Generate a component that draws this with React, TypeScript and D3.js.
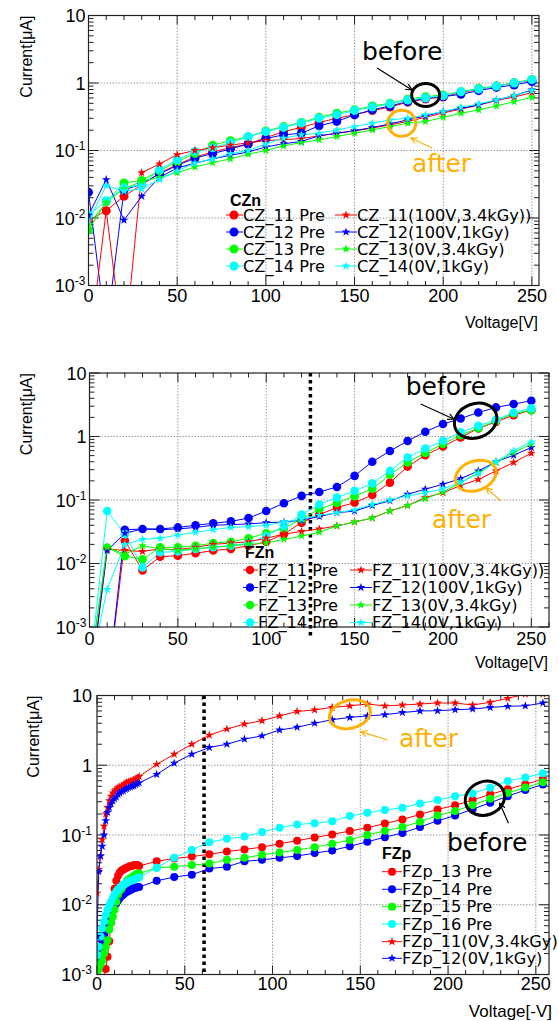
import React from "react";
import * as d3 from "d3";

// ---------- DATA ----------
// Panel 1 : CZn
const V_CZ = [0,10,20,30,40,50,60,70,80,90,100,110,120,130,140,150,160,170,180,190,200,210,220,230,240,250];
const CZ11_PRE = [0.0093,0.0128,0.021,0.031,0.046,0.062,0.08,0.095,0.11,0.125,0.155,0.19,0.22,0.26,0.3,0.34,0.39,0.44,0.52,0.58,0.62,0.72,0.8,0.9,1.0,1.1];
const CZ12_PRE = [0.024,0.0002,0.026,0.032,0.045,0.06,0.077,0.09,0.105,0.125,0.15,0.171,0.18,0.232,0.27,0.337,0.4,0.457,0.53,0.593,0.628,0.68,0.77,0.86,0.935,1.05];
const CZ13_PRE = [0.0066,0.0175,0.033,0.036,0.05,0.068,0.09,0.12,0.14,0.16,0.195,0.226,0.26,0.31,0.356,0.4,0.457,0.5,0.574,0.628,0.665,0.745,0.834,0.9,1.01,1.13];
const CZ14_PRE = [0.011,0.018,0.028,0.031,0.052,0.073,0.097,0.11,0.13,0.16,0.19,0.22,0.255,0.3,0.34,0.39,0.44,0.49,0.56,0.6,0.65,0.74,0.81,0.9,1.0,1.12];
const CZ11_AFT = [0.0001,0.0128,0.0001,0.047,0.063,0.087,0.1,0.11,0.12,0.13,0.14,0.145,0.15,0.165,0.18,0.195,0.215,0.24,0.27,0.31,0.36,0.41,0.47,0.55,0.62,0.72];
const CZ12_AFT = [0.011,0.037,0.0093,0.021,0.04,0.055,0.065,0.075,0.085,0.095,0.113,0.126,0.136,0.165,0.18,0.197,0.219,0.248,0.284,0.325,0.377,0.422,0.473,0.561,0.65,0.79];
const CZ13_AFT = [0.008,0.017,0.027,0.035,0.04,0.047,0.057,0.066,0.075,0.088,0.1,0.117,0.131,0.144,0.161,0.18,0.202,0.226,0.254,0.268,0.31,0.356,0.4,0.457,0.53,0.614];
const CZ14_AFT = [0.009,0.03,0.025,0.027,0.037,0.05,0.065,0.075,0.09,0.1,0.125,0.152,0.171,0.18,0.202,0.226,0.254,0.284,0.3,0.337,0.377,0.437,0.49,0.561,0.65,0.77];

// Panel 2 : FZn
const V_FZ = [0,10,20,30,40,50,60,70,80,90,100,110,120,130,140,150,160,170,180,190,200,210,220,230,240,250];
const FZ11_PRE = [0.0001,0.0001,0.023,0.0078,0.0128,0.0133,0.0145,0.016,0.017,0.019,0.022,0.029,0.044,0.059,0.076,0.091,0.12,0.188,0.336,0.507,0.695,0.965,1.34,1.7,2.17,2.6];
const FZ12_PRE = [0.0001,0.0001,0.034,0.035,0.035,0.037,0.04,0.043,0.046,0.052,0.067,0.089,0.116,0.134,0.16,0.24,0.4,0.59,0.85,1.19,1.57,1.92,2.39,2.87,3.24,3.66];
const FZ13_PRE = [0.0002,0.0178,0.013,0.0116,0.018,0.018,0.019,0.021,0.022,0.025,0.03,0.036,0.05,0.072,0.09,0.115,0.15,0.25,0.39,0.55,0.76,1.05,1.35,1.75,2.3,2.6];
const FZ14_PRE = [0.0002,0.067,0.029,0.0087,0.015,0.0155,0.017,0.018,0.019,0.021,0.027,0.039,0.059,0.085,0.109,0.139,0.183,0.287,0.467,0.646,0.855,1.16,1.47,1.83,2.39,2.77];
const FZ11_AFT = [0.0001,0.017,0.016,0.0155,0.017,0.0165,0.018,0.02,0.021,0.022,0.025,0.029,0.032,0.035,0.039,0.045,0.052,0.067,0.082,0.109,0.13,0.17,0.21,0.287,0.39,0.545];
const FZ12_AFT = [0.0001,0.016,0.03,0.035,0.034,0.035,0.037,0.04,0.041,0.042,0.044,0.045,0.048,0.055,0.063,0.067,0.082,0.097,0.123,0.148,0.177,0.217,0.287,0.4,0.507,0.67];
const FZ13_AFT = [0.0002,0.018,0.014,0.019,0.017,0.016,0.017,0.018,0.019,0.02,0.021,0.024,0.027,0.031,0.039,0.045,0.052,0.067,0.082,0.105,0.134,0.188,0.27,0.39,0.56,0.76];
const FZ14_AFT = [0.0002,0.0039,0.02,0.024,0.025,0.028,0.031,0.034,0.037,0.038,0.04,0.045,0.05,0.057,0.063,0.07,0.085,0.1,0.116,0.13,0.15,0.19,0.26,0.4,0.6,0.82];

// Panel 3 : FZp
const V_FZP = [0,1,2,3,4,5,6,7,8,9,10,11,12,13,14,15,16,17,18,19,20,21,22,23,24,
  34,44,54,64,74,84,94,104,114,124,134,144,154,164,174,184,194,204,214,224,234,244,254];
const FZP13_PRE = [0.0003,0.0004,0.0005,0.0007,0.0009,0.0012,0.0018,0.003,0.0055,0.01,0.017,0.022,0.026,0.029,0.031,0.032,0.033,0.034,0.035,0.036,0.036,0.037,0.037,0.037,0.036,
  0.042,0.046,0.049,0.053,0.058,0.062,0.067,0.075,0.083,0.092,0.102,0.114,0.127,0.146,0.167,0.197,0.233,0.266,0.317,0.383,0.452,0.533,0.63];
const FZP14_PRE = [0.0013,0.0018,0.0024,0.003,0.0037,0.0045,0.0055,0.0065,0.0075,0.0085,0.0095,0.0105,0.0115,0.0125,0.0133,0.014,0.0147,0.0153,0.0158,0.0163,0.0168,0.0172,0.0175,0.0178,0.018,
  0.022,0.025,0.027,0.033,0.035,0.042,0.044,0.047,0.05,0.055,0.06,0.069,0.08,0.093,0.107,0.13,0.16,0.19,0.235,0.29,0.36,0.44,0.53];
const FZP15_PRE = [0.001,0.0012,0.0014,0.0016,0.002,0.0025,0.0031,0.0044,0.0055,0.0068,0.0085,0.011,0.014,0.016,0.017,0.019,0.02,0.022,0.023,0.024,0.025,0.026,0.027,0.028,0.028,
  0.034,0.035,0.037,0.039,0.044,0.047,0.052,0.056,0.061,0.067,0.075,0.085,0.1,0.115,0.13,0.155,0.19,0.22,0.27,0.33,0.4,0.48,0.57];
const FZP16_PRE = [0.0019,0.0025,0.0035,0.0046,0.0058,0.0072,0.0085,0.0098,0.011,0.0125,0.014,0.0155,0.0165,0.0175,0.0185,0.0195,0.02,0.021,0.0215,0.022,0.0225,0.023,0.0235,0.024,0.0245,
  0.034,0.047,0.061,0.079,0.088,0.095,0.11,0.127,0.142,0.147,0.158,0.187,0.208,0.228,0.246,0.284,0.317,0.36,0.395,0.477,0.596,0.665,0.767];
const FZP11_AFT = [0.0147,0.032,0.05,0.086,0.134,0.2,0.246,0.31,0.36,0.4,0.43,0.45,0.48,0.49,0.5,0.52,0.55,0.57,0.58,0.59,0.6,0.62,0.63,0.66,0.69,
  1.03,1.44,2.0,2.7,3.3,3.9,4.35,5.1,5.9,6.2,6.75,7.1,7.55,7.1,7.3,7.55,7.8,7.8,7.3,8.0,9.1,10.5,10.5];
const FZP12_AFT = [0.0035,0.03,0.05,0.069,0.1,0.16,0.21,0.246,0.28,0.31,0.33,0.35,0.38,0.4,0.42,0.43,0.45,0.46,0.48,0.49,0.5,0.51,0.53,0.545,0.56,
  0.74,1.07,1.44,1.8,2.0,2.37,2.64,3.2,3.5,4.0,4.5,4.85,5.1,5.3,5.7,6.0,6.05,6.25,6.4,6.75,7.0,7.1,7.8];

const Y_DECADES = [0.001, 0.01, 0.1, 1, 10];

// ---------- STYLE ----------
const RED = "#ff0000", BLUE = "#0000ff", GREEN = "#00ff00", CYAN = "#00ffff";
const ORANGE = "#ffb000";
const TICK_FONT = "'Liberation Sans', Arial, sans-serif";
const LEG_FONT = "'DejaVu Sans', Verdana, sans-serif";

type Series = { label: string; color: string; kind: "pre" | "aft"; x: number[]; y: number[] };
type Note = { text: string; color: string; tx: number; ty: number; cx: number; cy: number; rx: number; ry: number; rot: number; a0: [number, number]; a1: [number, number] };

type PanelCfg = {
  id: string; left: number; right: number; top: number; bottom: number; xMax: number;
  xTickY: number; xTitle: string; xTitleX: number; xTitleY: number; xTitleSize: number;
  yTitleX: number; yLabelGap: number; circleR: number;
  series: Series[]; header: string; headerX: number; headerY: number; rows: number[];
  cols: { mark: number; l0: number; l1: number; text: number }[];
  twoCols: boolean; dottedV?: number; dottedBottom?: number; notes: Note[];
};

const mk = (label: string, color: string, kind: "pre" | "aft", x: number[], y: number[]): Series => ({ label, color, kind, x, y });

const P1: PanelCfg = {
  id: "cz", left: 88.5, right: 539, top: 15.5, bottom: 285.5, xMax: 254,
  xTickY: 302, xTitle: "Voltage[V]", xTitleX: 538, xTitleY: 328, xTitleSize: 16,
  yTitleX: 32, yLabelGap: 3, circleR: 4.5,
  series: [
    mk("CZ_11 Pre", RED, "pre", V_CZ, CZ11_PRE),
    mk("CZ_12 Pre", BLUE, "pre", V_CZ, CZ12_PRE),
    mk("CZ_13 Pre", GREEN, "pre", V_CZ, CZ13_PRE),
    mk("CZ_14 Pre", CYAN, "pre", V_CZ, CZ14_PRE),
    mk("CZ_11(100V,3.4kGy))", RED, "aft", V_CZ, CZ11_AFT),
    mk("CZ_12(100V,1kGy)", BLUE, "aft", V_CZ, CZ12_AFT),
    mk("CZ_13(0V,3.4kGy)", GREEN, "aft", V_CZ, CZ13_AFT),
    mk("CZ_14(0V,1kGy)", CYAN, "aft", V_CZ, CZ14_AFT),
  ],
  header: "CZn", headerX: 230, headerY: 200, rows: [215, 232, 249, 266],
  cols: [{ mark: 234, l0: 226, l1: 243, text: 243 }, { mark: 346, l0: 335, l1: 357, text: 357 }],
  twoCols: true,
  notes: [
    { text: "before", color: "#000", tx: 154.2, ty: 2.19, cx: 190.1, cy: 0.664, rx: 14, ry: 11.5, rot: 0, a0: [162.7, 1.67], a1: [182.4, 0.787] },
    { text: "after", color: ORANGE, tx: 182.4, ty: 0.048, cx: 176.6, cy: 0.253, rx: 14, ry: 13, rot: 0, a0: [193.8, 0.109], a1: [181.7, 0.153] },
  ],
};

const P2: PanelCfg = {
  id: "fzn", left: 89.5, right: 549, top: 373, bottom: 627, xMax: 260,
  xTickY: 645, xTitle: "Voltage[V]", xTitleX: 548, xTitleY: 668, xTitleSize: 16,
  yTitleX: 32, yLabelGap: 3, circleR: 4.3,
  series: [
    mk("FZ_11 Pre", RED, "pre", V_FZ, FZ11_PRE),
    mk("FZ_12 Pre", BLUE, "pre", V_FZ, FZ12_PRE),
    mk("FZ_13 Pre", GREEN, "pre", V_FZ, FZ13_PRE),
    mk("FZ_14 Pre", CYAN, "pre", V_FZ, FZ14_PRE),
    mk("FZ_11(100V,3.4kGy))", RED, "aft", V_FZ, FZ11_AFT),
    mk("FZ_12(100V,1kGy)", BLUE, "aft", V_FZ, FZ12_AFT),
    mk("FZ_13(0V,3.4kGy)", GREEN, "aft", V_FZ, FZ13_AFT),
    mk("FZ_14(0V,1kGy)", CYAN, "aft", V_FZ, FZ14_AFT),
  ],
  header: "FZn", headerX: 245, headerY: 552, rows: [570, 587.5, 605, 622.5],
  cols: [{ mark: 250, l0: 243, l1: 258, text: 258 }, { mark: 361, l0: 350, l1: 372, text: 372 }],
  twoCols: true, dottedV: 125, dottedBottom: 637,
  notes: [
    { text: "before", color: "#000", tx: 178.9, ty: 4.5, cx: 218.5, cy: 1.77, rx: 21.7, ry: 17, rot: -20, a0: [187.4, 3.25], a1: [206.3, 1.87] },
    { text: "after", color: ORANGE, tx: 193.8, ty: 0.0362, cx: 218.5, cy: 0.241, rx: 21, ry: 14.7, rot: -20, a0: [232.7, 0.0975], a1: [224.2, 0.155] },
  ],
};

const P3: PanelCfg = {
  id: "fzp", left: 97, right: 549, top: 695.5, bottom: 974.5, xMax: 257.5,
  xTickY: 990, xTitle: "Voltage[-V]", xTitleX: 552, xTitleY: 1017, xTitleSize: 17,
  yTitleX: 39, yLabelGap: 5, circleR: 4,
  series: [
    mk("FZp_13 Pre", RED, "pre", V_FZP, FZP13_PRE),
    mk("FZp_14 Pre", BLUE, "pre", V_FZP, FZP14_PRE),
    mk("FZp_15 Pre", GREEN, "pre", V_FZP, FZP15_PRE),
    mk("FZp_16 Pre", CYAN, "pre", V_FZP, FZP16_PRE),
    mk("FZp_11(0V,3.4kGy)", RED, "aft", V_FZP, FZP11_AFT),
    mk("FZp_12(0V,1kGy)", BLUE, "aft", V_FZP, FZP12_AFT),
  ],
  header: "FZp", headerX: 382, headerY: 853, rows: [871.7, 889.3, 906.7, 924, 941.7, 958.3],
  cols: [{ mark: 392, l0: 382, l1: 402, text: 402 }],
  twoCols: false, dottedV: 61, dottedBottom: 975,
  notes: [
    { text: "after", color: ORANGE, tx: 172, ty: 1.83, cx: 144.1, cy: 5.38, rx: 20.8, ry: 14, rot: -15, a0: [165.4, 2.3], a1: [150.2, 3.03] },
    { text: "before", color: "#000", tx: 199.4, ty: 0.059, cx: 221, cy: 0.336, rx: 20, ry: 16.7, rot: -20, a0: [234.4, 0.147], a1: [229.4, 0.285] },
  ],
};

const circlePath = (r: number) => d3.symbol().type(d3.symbolCircle).size(Math.PI * r * r)()!;
const starPath = d3.symbol().type(d3.symbolStar).size(24)()!;

function Marker({ s, x, y, r }: { s: Series; x: number; y: number; r: number }) {
  return <path d={s.kind === "pre" ? circlePath(r) : starPath} transform={`translate(${x},${y})`} fill={s.color} />;
}

function supLabel(v: number) {
  const e = Math.round(Math.log10(v));
  if (e === 0) return <>1</>;
  if (e === 1) return <>10</>;
  return <>10<tspan dy={-7} fontSize={12}>{String(e)}</tspan></>;
}

function Panel({ p }: { p: PanelCfg }) {
  const x = d3.scaleLinear().domain([0, p.xMax]).range([p.left, p.right]);
  const y = d3.scaleLog().domain([1e-3, 10]).range([p.bottom, p.top]);
  const line = d3.line<number>();
  const clip = `clip-${p.id}`;
  const xt = d3.range(0, p.xMax + 0.001, 10);
  const yMinor: number[] = [];
  Y_DECADES.slice(0, -1).forEach((d) => { for (let k = 2; k <= 9; k++) yMinor.push(d * k); });
  const grid = "#9a9a9a";

  const arrow = (n: Note) => {
    const x0 = x(n.a0[0]), y0 = y(n.a0[1]), x1 = x(n.a1[0]), y1 = y(n.a1[1]);
    const ang = Math.atan2(y1 - y0, x1 - x0);
    const h = 7, w = 0.45;
    const pa = [x1 - h * Math.cos(ang - w), y1 - h * Math.sin(ang - w)];
    const pb = [x1 - h * Math.cos(ang + w), y1 - h * Math.sin(ang + w)];
    return (
      <g stroke={n.color} fill="none" strokeWidth={1.2}>
        <line x1={x0} y1={y0} x2={x1} y2={y1} />
        <polyline points={`${pa[0]},${pa[1]} ${x1},${y1} ${pb[0]},${pb[1]}`} />
      </g>
    );
  };

  return (
    <g>
      <defs>
        <clipPath id={clip}><rect x={p.left} y={p.top} width={p.right - p.left} height={p.bottom - p.top} /></clipPath>
      </defs>
      {/* grid */}
      <g stroke={grid} strokeWidth={1} strokeDasharray="1.5,1.5">
        {xt.filter((v) => v % 50 === 0 && v > 0).map((v) => <line key={"gx" + v} x1={x(v)} x2={x(v)} y1={p.top} y2={p.bottom} />)}
        {Y_DECADES.slice(1, -1).map((v) => <line key={"gy" + v} x1={p.left} x2={p.right} y1={y(v)} y2={y(v)} />)}
      </g>
      {/* ticks */}
      <g stroke="#222" strokeWidth={1}>
        {xt.map((v) => {
          const L = v % 50 === 0 ? 9 : 4.5;
          return (
            <g key={"tx" + v}>
              <line x1={x(v)} x2={x(v)} y1={p.bottom} y2={p.bottom - L} />
              <line x1={x(v)} x2={x(v)} y1={p.top} y2={p.top + L} />
            </g>
          );
        })}
        {Y_DECADES.map((v) => (
          <g key={"ty" + v}>
            <line x1={p.left} x2={p.left + 10} y1={y(v)} y2={y(v)} />
            <line x1={p.right} x2={p.right - 10} y1={y(v)} y2={y(v)} />
          </g>
        ))}
        {yMinor.map((v) => (
          <g key={"tym" + v}>
            <line x1={p.left} x2={p.left + 5} y1={y(v)} y2={y(v)} />
            <line x1={p.right} x2={p.right - 5} y1={y(v)} y2={y(v)} />
          </g>
        ))}
      </g>
      {/* dotted marker line */}
      {p.dottedV !== undefined && (
        <line x1={x(p.dottedV)} x2={x(p.dottedV)} y1={p.top} y2={p.dottedBottom} stroke="#000" strokeWidth={3.5} strokeDasharray="3.5,3.5" />
      )}
      {/* data */}
      <g clipPath={`url(#${clip})`}>
        {p.series.map((s, i) => {
          const pts = s.x.map((v, j) => [x(v), y(s.y[j])] as [number, number]);
          return <path key={"l" + i} d={line(pts as any)!} fill="none" stroke={s.color} strokeWidth={1} />;
        })}
        {p.series.map((s, i) => (
          <g key={"m" + i}>
            {s.x.map((v, j) => <Marker key={j} s={s} x={x(v)} y={y(s.y[j])} r={p.circleR} />)}
          </g>
        ))}
      </g>
      {/* frame */}
      <rect x={p.left} y={p.top} width={p.right - p.left} height={p.bottom - p.top} fill="none" stroke="#222" strokeWidth={1.2} />
      {/* tick labels */}
      <g fontFamily={TICK_FONT} fontSize={18} fill="#000">
        {xt.filter((v) => v % 50 === 0).map((v) => (
          <text key={"lx" + v} x={x(v)} y={p.xTickY} textAnchor="middle">{v}</text>
        ))}
        {Y_DECADES.map((v) => (
          <text key={"ly" + v} x={p.left - p.yLabelGap} y={y(v) + 6.5} textAnchor="end">{supLabel(v)}</text>
        ))}
      </g>
      {/* axis titles */}
      <text x={p.xTitleX} y={p.xTitleY} textAnchor="end" fontFamily={TICK_FONT} fontSize={p.xTitleSize}>{p.xTitle}</text>
      <text transform={`translate(${p.yTitleX},${p.top}) rotate(-90)`} textAnchor="end" fontFamily={TICK_FONT} fontSize={16}>Current[μA]</text>
      {/* legend */}
      <text x={p.headerX} y={p.headerY} dominantBaseline="central" fontFamily={TICK_FONT} fontWeight="bold" fontSize={16}>{p.header}</text>
      {p.series.map((s, i) => {
        const ci = p.twoCols ? (s.kind === "pre" ? 0 : 1) : 0;
        const ri = p.twoCols ? i % 4 : i;
        const c = p.cols[ci];
        const ry = p.rows[ri];
        return (
          <g key={"lg" + i}>
            <line x1={c.l0} x2={c.l1} y1={ry} y2={ry} stroke={s.color} strokeWidth={1} />
            <Marker s={s} x={c.mark} y={ry} r={p.circleR} />
            <text x={c.text} y={ry} dominantBaseline="central" fontFamily={LEG_FONT} fontSize={16.2}>{s.label}</text>
          </g>
        );
      })}
      {/* annotations */}
      {p.notes.map((n, i) => (
        <g key={"n" + i}>
          <ellipse cx={x(n.cx)} cy={y(n.cy)} rx={n.rx} ry={n.ry} transform={`rotate(${n.rot},${x(n.cx)},${y(n.cy)})`} fill="none" stroke={n.color} strokeWidth={3} />
          {arrow(n)}
          <text x={x(n.tx)} y={y(n.ty)} fill={n.color} fontFamily={LEG_FONT} fontSize={25}>{n.text}</text>
        </g>
      ))}
    </g>
  );
}

export default function App() {
  return (
    <svg width={558} height={1021} viewBox="0 0 558 1021" style={{ position: "absolute", left: 0, top: 0, display: "block", background: "#fff" }}>
      <rect width={558} height={1021} fill="#fff" />
      <Panel p={P1} />
      <Panel p={P2} />
      <Panel p={P3} />
    </svg>
  );
}
